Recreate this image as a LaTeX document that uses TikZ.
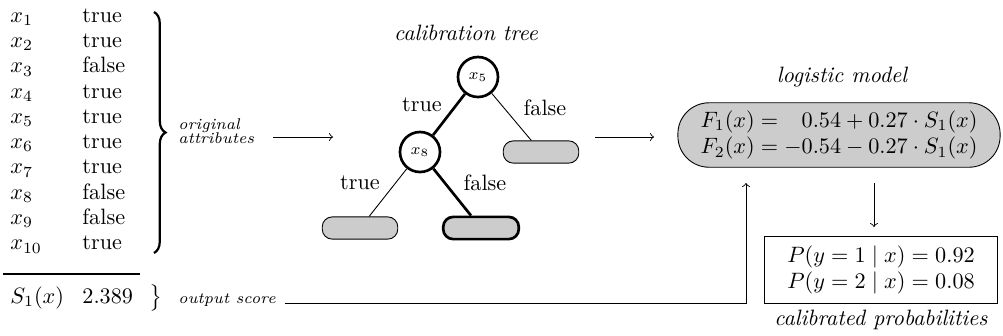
\documentclass[tikz,border=0pt]{standalone}
\usetikzlibrary{calc,decorations.pathreplacing}
\begin{document}
\begin{tikzpicture}[x=0.45pt,y=-0.45pt,
  lbl/.style={inner sep=0pt, anchor=base west},
  caption/.style={inner sep=0pt, font=\itshape},
  small/.style={inner sep=0pt, font=\scriptsize\itshape},
  treenode/.style={circle, draw, line width=1.2pt, minimum size=18pt, inner sep=0pt, font=\scriptsize},
  leaf/.style={draw, fill=gray!40, rounded corners=4.5pt, minimum width=34pt, minimum height=10pt, inner sep=0pt},
  boldleaf/.style={leaf, line width=1.2pt},
  thickedge/.style={line width=1.2pt},
  thinedge/.style={line width=0.4pt},
  edgelbl/.style={inner sep=0pt},
  bracestyle/.style={decorate, decoration={brace, amplitude=5.2pt}, line width=1pt},
  conn/.style={->, line width=0.4pt}]
\useasboundingbox (0,0) rectangle (1003,335);

% attribute table
\foreach \v [count=\i] in {true,true,false,true,true,true,true,false,false,true} {
  \node[lbl] (x\i) at (10,{22+25.33*(\i-1)}) {$x_{\i}$};
  \node[lbl] (v\i) at (82,{22+25.33*(\i-1)}) {\v};
}
\coordinate (btop) at (154,12);
\coordinate (bbot) at (154,253);
\draw[bracestyle] (btop) -- (bbot);
\node[small, anchor=west, align=left, text depth=0pt] (attr) at (178,131)
  {original\\[-1.5pt]attributes};
\coordinate (rule1) at (3,274);
\coordinate (rule2) at (140,274);
\draw[line width=0.5pt] (rule1) -- (rule2);
\node[lbl] (S) at (10,303) {$S_1(x)$};
\node[lbl] (Sv) at (82,303) {2.389};
\node[inner sep=0pt, anchor=base] (sbrace) at (156,303) {$\big\}$};
\node[small, anchor=base west] (outs) at (178,303) {output score};

% tree
\node[caption] (ctree) at (466,33) {calibration tree};
\node[treenode] (n5) at (478,77) {$x_5$};
\node[treenode] (n8) at (420,152) {$x_8$};
\node[leaf] (lr) at (541,152) {};
\node[leaf] (ll) at (360,228) {};
\node[boldleaf] (lm) at (481,228) {};
\draw[thickedge] (n5) -- (n8);
\draw[thinedge] (n5) -- (lr);
\draw[thinedge] (n8) -- (ll);
\draw[thickedge] (n8) -- (lm);
\node[edgelbl] (t1) at (422,105) {true};
\node[edgelbl] (f1) at (545,108) {false};
\node[edgelbl] (t2) at (360,183) {true};
\node[edgelbl] (f2) at (485,183) {false};

% logistic model
\node[caption] (clog) at (842,77) {logistic model};
\node[draw, fill=gray!40, rounded corners=14pt, minimum width=145pt, minimum height=29pt, inner sep=0pt] (logit) at (839,135)
  {$\begin{array}{@{}r@{}r@{}}
     F_1(x) = {} & 0.54 + 0.27\cdot S_1(x)\\
     F_2(x) = {} & -0.54 - 0.27\cdot S_1(x)
   \end{array}$};

% probabilities
\node[draw, minimum width=105pt, minimum height=30pt, inner sep=0pt] (prob) at (881,270)
  {$\begin{array}{@{}c@{}}
     P(y=1\mid x)=0.92\\
     P(y=2\mid x)=0.08
   \end{array}$};
\node[caption] (cprob) at (881,320) {calibrated probabilities};

% connectors
\coordinate (a1s) at (273,137);
\coordinate (a1e) at (333,137);
\draw[conn] (a1s) -- (a1e);
\coordinate (a2s) at (595,137);
\coordinate (a2e) at (654,137);
\draw[conn] (a2s) -- (a2e);
\coordinate (a3s) at (874,183);
\coordinate (a3e) at (874,227);
\draw[conn] (a3s) -- (a3e);
\coordinate (a4s) at (285,303);
\coordinate (a4e) at (746,183);
\draw[conn] (a4s) -| (a4e);
\end{tikzpicture}
\end{document}
